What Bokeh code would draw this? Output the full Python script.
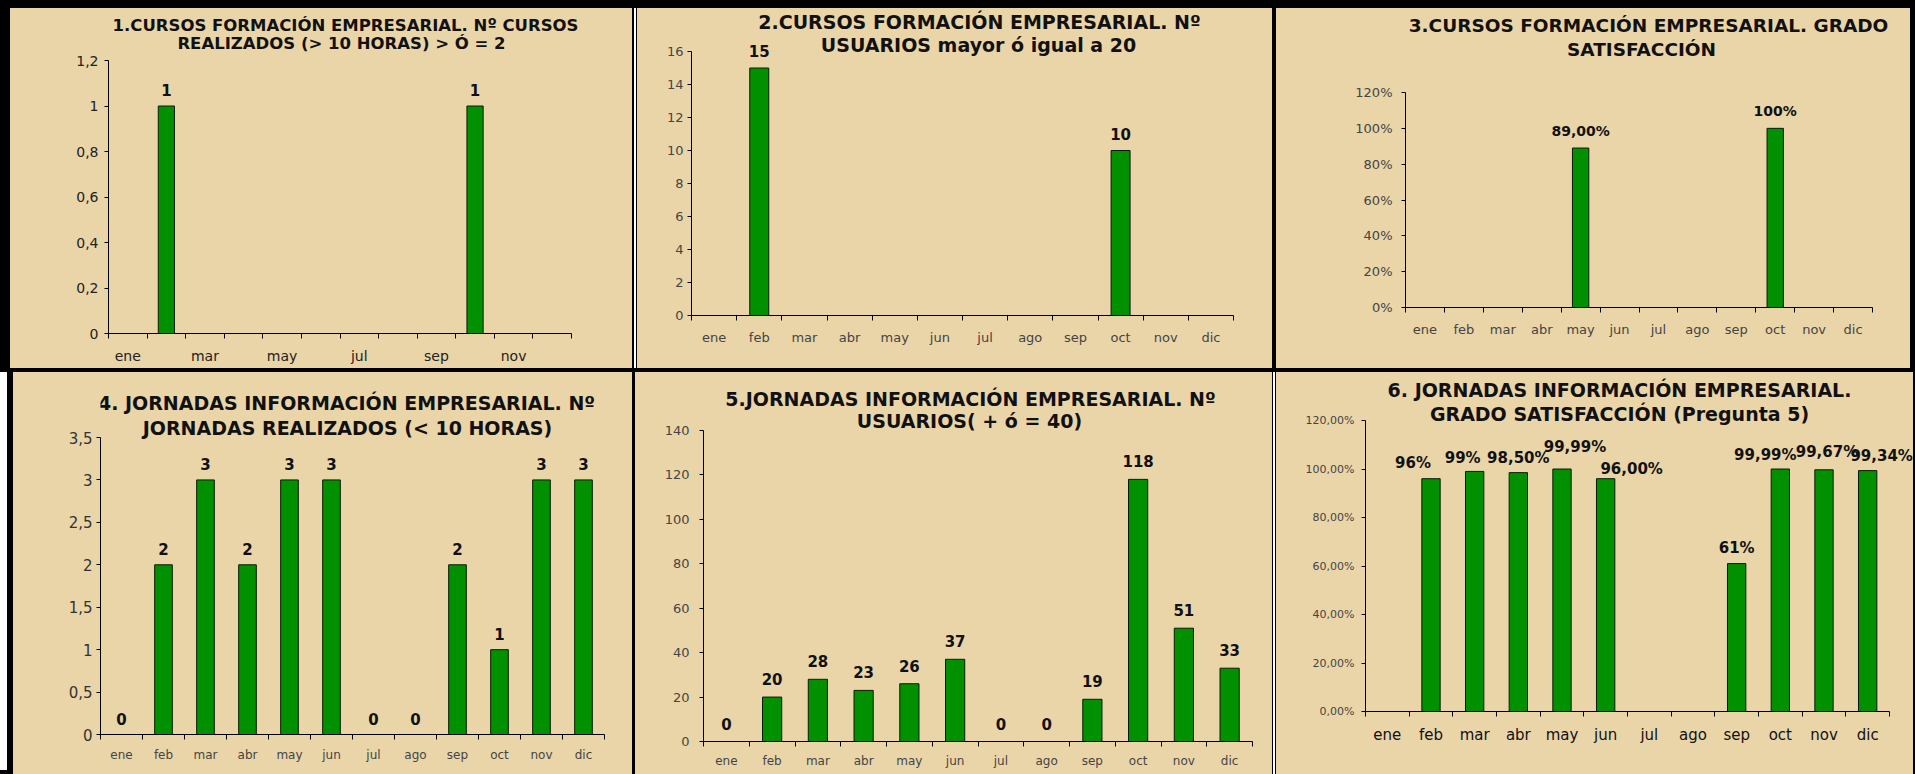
from bokeh.plotting import figure
from bokeh.models import (Range1d, FixedTicker, CustomJSTickFormatter, ColumnDataSource,
                          LabelSet, Label, Spacer)
from bokeh.core.properties import value
from bokeh.layouts import row, column
from bokeh.embed import file_html
from bokeh.resources import INLINE

NaN = float("nan")

# ---------------- data ----------------
months = ["ene", "feb", "mar", "abr", "may", "jun", "jul", "ago", "sep", "oct", "nov", "dic"]
p1_tick_months = ["ene", "mar", "may", "jul", "sep", "nov"]

cursos_realizados = [0, 1, 0, 0, 0, 0, 0, 0, 0, 1, 0, 0]
cursos_realizados_labels = ["", "1", "", "", "", "", "", "", "", "1", "", ""]

cursos_usuarios = [0, 15, 0, 0, 0, 0, 0, 0, 0, 10, 0, 0]
cursos_usuarios_labels = ["", "15", "", "", "", "", "", "", "", "10", "", ""]

cursos_satisfaccion = [NaN, NaN, NaN, NaN, 0.89, NaN, NaN, NaN, NaN, 1.00, NaN, NaN]
cursos_satisfaccion_labels = ["", "", "", "", "89,00%", "", "", "", "", "100%", "", ""]

jornadas_realizadas = [0, 2, 3, 2, 3, 3, 0, 0, 2, 1, 3, 3]
jornadas_realizadas_labels = ["0", "2", "3", "2", "3", "3", "0", "0", "2", "1", "3", "3"]

jornadas_usuarios = [0, 20, 28, 23, 26, 37, 0, 0, 19, 118, 51, 33]
jornadas_usuarios_labels = ["0", "20", "28", "23", "26", "37", "0", "0", "19", "118", "51", "33"]

jornadas_satisfaccion = [NaN, 0.96, 0.99, 0.985, 0.9999, 0.96, NaN, NaN, 0.61, 0.9999, 0.9967, 0.9934]
jornadas_satisfaccion_labels = ["", "96%", "99%", "98,50%", "99,99%", "96,00%", "", "",
                                "61%", "99,99%", "99,67%", "99,34%"]

titles = [
    ["1.CURSOS FORMACIÓN EMPRESARIAL. Nº CURSOS", "REALIZADOS (> 10 HORAS) > Ó = 2"],
    ["2.CURSOS FORMACIÓN EMPRESARIAL. Nº", "USUARIOS mayor ó igual a 20"],
    ["3.CURSOS FORMACIÓN EMPRESARIAL. GRADO", "SATISFACCIÓN"],
    ["4. JORNADAS INFORMACIÓN EMPRESARIAL. Nº", "JORNADAS REALIZADOS (< 10 HORAS)"],
    ["5.JORNADAS INFORMACIÓN EMPRESARIAL. Nº", "USUARIOS( + ó = 40)"],
    ["6. JORNADAS INFORMACIÓN EMPRESARIAL.", "GRADO SATISFACCIÓN (Pregunta 5)"],
]

# label nudges (screen px) for the crowded satisfaction chart
p6_label_dx = [0, -18, -12, 0, 13, 26, 0, 0, 0, -15, 3, 14]
p6_label_dy = [0, 1, -2, 0, 7, -5, 0, 0, 1, -1, 3, 0]

# ---------------- style ----------------
FONT = "DejaVu Sans"
TAN = "#EAD5A9"
GREEN = "#009000"

FMT_COMMA = "return String(Math.round(tick*100)/100).replace('.', ',');"
FMT_INT = "return String(Math.round(tick));"
FMT_PCT0 = "return Math.round(tick*100) + '%';"
FMT_PCT2 = "return (tick*100).toFixed(2).replace('.', ',') + '%';"


def make_panel(fig_box, axis_box, margin, vals, labels, ymax, ystep, yfmt, title_lines,
               title_pos, title_size, tick_months, xfont, xcolor, xstandoff,
               yfont, ycolor, ystandoff, vfont, voff, dx=None, dy=None, bar_w=0.42):
    fx, fy, fw, fh = fig_box          # figure box on the page
    l, t, r, b = axis_box             # where the axes run on the page
    n = len(months)
    fl, fr, ft, fb = l, fx + fw, fy, b  # plot frame reaches the top/right edges
    px_x = (r - l) / n
    px_y = (b - t) / ymax
    x_range = Range1d(0, n + (fr - r) / px_x)
    y_range = Range1d(0, ymax + (t - ft) / px_y)

    p = figure(width=fw, height=fh, x_range=x_range, y_range=y_range,
               output_backend="svg", toolbar_location=None, tools="",
               min_border_left=fl - fx, min_border_right=0,
               min_border_top=0, min_border_bottom=fy + fh - b)
    try:
        p.frame_align = False
    except Exception:
        pass
    p.margin = margin
    p.styles = {"background-color": TAN}
    p.background_fill_color = TAN
    p.border_fill_color = TAN
    p.outline_line_color = None
    p.xgrid.visible = False
    p.ygrid.visible = False

    centers = [i + 0.5 for i in range(n)]
    src = ColumnDataSource(dict(
        x=centers, top=vals, label=labels,
        dx=dx if dx is not None else [0] * n,
        dy=[voff + d for d in dy] if dy is not None else [voff] * n,
    ))
    p.vbar(x="x", top="top", width=bar_w, source=src, fill_color=GREEN,
           line_color="#0a1a0a", line_width=1)
    p.add_layout(LabelSet(x="x", y="top", text="label", source=src,
                          x_offset="dx", y_offset="dy",
                          text_align="center", text_baseline="middle",
                          text_font=value(FONT), text_font_size=vfont,
                          text_font_style="bold", text_color="#111111"))

    # x axis: labels at category centres, tick marks at category boundaries
    xa = p.xaxis[0]
    idx = [months.index(m) for m in tick_months]
    xa.ticker = FixedTicker(ticks=[centers[i] for i in idx], minor_ticks=list(range(n + 1)))
    xa.formatter = CustomJSTickFormatter(args=dict(labels=months), code=
        "const i = Math.floor(tick); return (i >= 0 && i < labels.length) ? labels[i] : '';")
    xa.bounds = (0, n)
    xa.major_tick_line_color = None
    xa.major_tick_out = 0
    xa.major_tick_in = 0
    xa.minor_tick_line_color = "black"
    xa.minor_tick_out = 5
    xa.minor_tick_in = 0
    xa.axis_line_color = "black"
    xa.major_label_text_font = FONT
    xa.major_label_text_font_size = xfont
    xa.major_label_text_color = xcolor
    xa.major_label_standoff = xstandoff

    ya = p.yaxis[0]
    nt = int(round(ymax / ystep))
    ya.ticker = FixedTicker(ticks=[round(k * ystep, 6) for k in range(nt + 1)], minor_ticks=[])
    ya.formatter = CustomJSTickFormatter(code=yfmt)
    ya.bounds = (0, ymax)
    ya.major_tick_out = 4
    ya.major_tick_in = 0
    ya.major_tick_line_color = "black"
    ya.minor_tick_line_color = None
    ya.axis_line_color = "black"
    ya.major_label_text_font = FONT
    ya.major_label_text_font_size = yfont
    ya.major_label_text_color = ycolor
    ya.major_label_standoff = ystandoff

    for line, (cx, cy) in zip(title_lines, title_pos):
        p.add_layout(Label(x=cx - fl, y=fb - cy, x_units="screen", y_units="screen",
                           text=line, text_align="center", text_baseline="middle",
                           text_font=FONT, text_font_size=title_size,
                           text_font_style="bold", text_color="#111111"))
    return p


p1 = make_panel((10, 8, 622, 360), (108, 60, 571, 333), (8, 0, 0, 10),
                cursos_realizados, cursos_realizados_labels, 1.2, 0.2, FMT_COMMA,
                titles[0], [(345, 25), (341, 43)], "16.5px", p1_tick_months,
                "14px", "#222222", 9, "14px", "#222222", 6, "15px", 16)
p2 = make_panel((637, 8, 635, 360), (691, 51, 1233, 315), (8, 0, 0, 1),
                cursos_usuarios, cursos_usuarios_labels, 16, 2, FMT_INT,
                titles[1], [(979, 21), (978, 44)], "19px", months,
                "13px", "#444444", 9, "13px", "#444444", 4, "15px", 17)
p3 = make_panel((1276, 8, 634, 360), (1405, 92, 1872, 307), (8, 5, 0, 4),
                cursos_satisfaccion, cursos_satisfaccion_labels, 1.2, 0.2, FMT_PCT0,
                titles[2], [(1648, 25), (1641, 49)], "18.5px", months,
                "13px", "#444444", 9, "13px", "#444444", 9, "14px", 17)
p4 = make_panel((13, 372, 619, 402), (100, 437, 604, 734), (4, 0, 0, 6),
                jornadas_realizadas, jornadas_realizadas_labels, 3.5, 0.5, FMT_COMMA,
                titles[3], [(346, 402), (347, 427)], "19px", months,
                "12px", "#444444", 8, "15px", "#333333", 4, "15px", 16)
p5 = make_panel((635, 372, 637, 402), (703, 430, 1252, 741), (4, 0, 0, 3),
                jornadas_usuarios, jornadas_usuarios_labels, 140, 20, FMT_INT,
                titles[4], [(970, 398), (969, 420)], "19px", months,
                "12px", "#444444", 7, "13px", "#444444", 10, "15px", 18)
p6 = make_panel((1276, 372, 637, 402), (1365, 420, 1889, 711), (4, 2, 0, 1),
                jornadas_satisfaccion, jornadas_satisfaccion_labels, 1.2, 0.2, FMT_PCT2,
                titles[5], [(1619, 389), (1619, 413)], "19px", months,
                "15px", "#111111", 9, "11px", "#444444", 7, "15px", 15,
                dx=p6_label_dx, dy=p6_label_dy)

# thin white gaps of the double separator lines and the white strip at the lower left
gap_top = Spacer(width=2, height=360, margin=(8, 0, 0, 2), styles={"background-color": "white"})
gap_bottom = Spacer(width=2, height=402, margin=(4, 0, 0, 1), styles={"background-color": "white"})
strip_left = Spacer(width=7, height=398, margin=(4, 0, 4, 0), styles={"background-color": "white"})

layout = column(row(p1, gap_top, p2, p3, spacing=0),
                row(strip_left, p4, p5, gap_bottom, p6, spacing=0), spacing=0,
                styles={"background-color": "black"})

open("out.html", "w").write(file_html(layout, INLINE))
